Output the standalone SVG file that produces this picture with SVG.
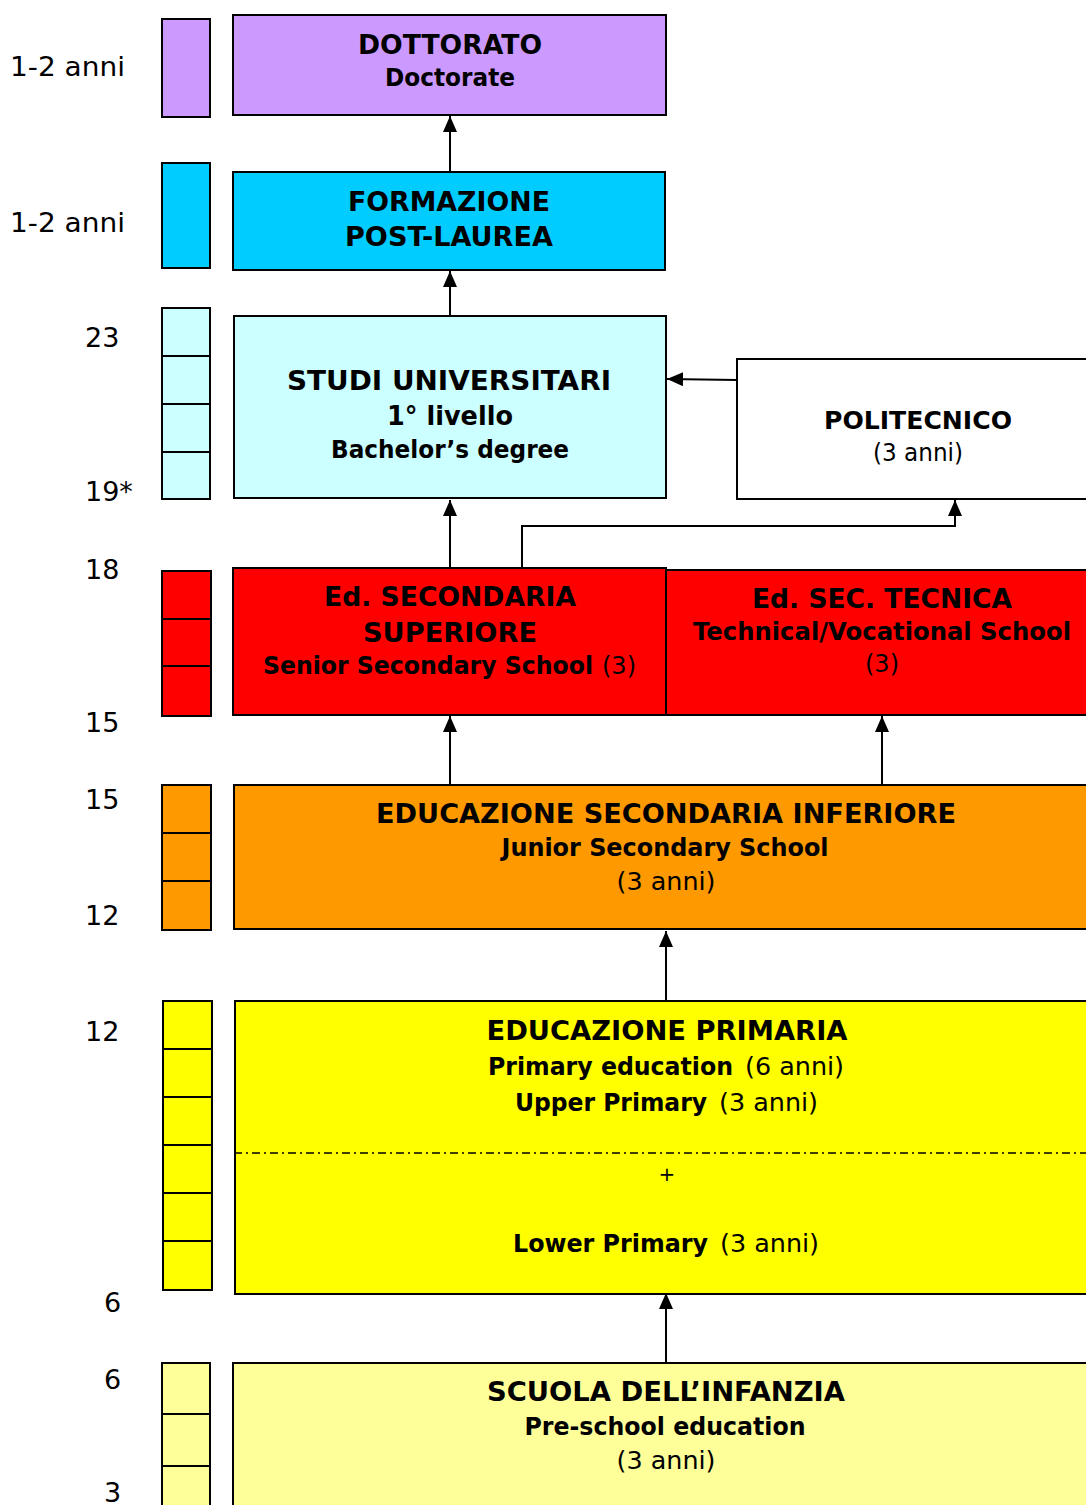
<svg xmlns="http://www.w3.org/2000/svg" width="1086" height="1505" viewBox="0 0 1086 1505">
<defs>
<style>
text{font-family:"DejaVu Sans","Verdana",sans-serif;fill:#000;}
.b{font-weight:bold;}
.n{font-weight:normal;}
.h{font-size:27px;font-weight:bold;}
.s{font-size:24px;font-weight:bold;}
.lbl{font-size:27px;}
.box{stroke:#000;stroke-width:2;}
.bar{stroke:#000;stroke-width:2;}
.con{stroke:#000;stroke-width:2;fill:none;}
</style>
<marker id="ah" viewBox="0 0 16 14" refX="16" refY="7" markerWidth="16" markerHeight="14" markerUnits="userSpaceOnUse" orient="auto">
<path d="M0,0 L16,7 L0,14 z" fill="#000"/>
</marker>
</defs>
<rect width="1086" height="1505" fill="#fff"/>

<g id="age-labels" class="lbl">
<text x="10" y="76" textLength="115" lengthAdjust="spacingAndGlyphs" font-size="27">1-2 anni</text>
<text x="10" y="232" textLength="115" lengthAdjust="spacingAndGlyphs" font-size="27">1-2 anni</text>
<text x="85" y="347" font-size="27">23</text>
<text x="85" y="501" font-size="27">19*</text>
<text x="85" y="579" font-size="27">18</text>
<text x="85" y="732" font-size="27">15</text>
<text x="85" y="809" font-size="27">15</text>
<text x="85" y="925" font-size="27">12</text>
<text x="85" y="1041" font-size="27">12</text>
<text x="104" y="1312" font-size="27">6</text>
<text x="104" y="1389" font-size="27">6</text>
<text x="104" y="1502" font-size="27">3</text>
</g>

<g id="year-bars">
<rect class="bar" x="162" y="19" width="48" height="98" fill="#cc99ff"/>
<rect class="bar" x="162" y="163" width="48" height="105" fill="#00ccff"/>
<g fill="#ccffff">
<rect class="bar" x="162" y="308" width="48" height="48"/>
<rect class="bar" x="162" y="356" width="48" height="48"/>
<rect class="bar" x="162" y="404" width="48" height="48"/>
<rect class="bar" x="162" y="452" width="48" height="47"/>
</g>
<g fill="#ff0000">
<rect class="bar" x="162" y="571" width="49" height="48"/>
<rect class="bar" x="162" y="619" width="49" height="47"/>
<rect class="bar" x="162" y="666" width="49" height="50"/>
</g>
<g fill="#ff9900">
<rect class="bar" x="162" y="785" width="49" height="48"/>
<rect class="bar" x="162" y="833" width="49" height="48"/>
<rect class="bar" x="162" y="881" width="49" height="49"/>
</g>
<g fill="#ffff00">
<rect class="bar" x="163" y="1001" width="49" height="48"/>
<rect class="bar" x="163" y="1049" width="49" height="48"/>
<rect class="bar" x="163" y="1097" width="49" height="48"/>
<rect class="bar" x="163" y="1145" width="49" height="48"/>
<rect class="bar" x="163" y="1193" width="49" height="48"/>
<rect class="bar" x="163" y="1241" width="49" height="49"/>
</g>
<g fill="#ffff99">
<rect class="bar" x="162" y="1363" width="48" height="51"/>
<rect class="bar" x="162" y="1414" width="48" height="52"/>
<rect class="bar" x="162" y="1466" width="48" height="50"/>
</g>
</g>

<g id="connectors">
<line class="con" x1="450" y1="172" x2="450" y2="116" marker-end="url(#ah)"/>
<line class="con" x1="450" y1="316" x2="450" y2="271" marker-end="url(#ah)"/>
<line class="con" x1="450" y1="568" x2="450" y2="500" marker-end="url(#ah)"/>
<polyline class="con" points="522,568 522,526 955,526 955,500" marker-end="url(#ah)"/>
<line class="con" x1="737" y1="380" x2="667" y2="379" marker-end="url(#ah)"/>
<line class="con" x1="450" y1="785" x2="450" y2="716" marker-end="url(#ah)"/>
<line class="con" x1="882" y1="785" x2="882" y2="716" marker-end="url(#ah)"/>
<line class="con" x1="666" y1="1003" x2="666" y2="931" marker-end="url(#ah)"/>
<line class="con" x1="666" y1="1363" x2="666" y2="1293" marker-end="url(#ah)"/>
</g>

<g id="dottorato">
<rect class="box" x="233" y="15" width="433" height="100" fill="#cc99ff"/>
<text class="h" x="450" y="54" text-anchor="middle" textLength="184" lengthAdjust="spacingAndGlyphs">DOTTORATO</text>
<text class="s" x="450" y="86" text-anchor="middle" textLength="130" lengthAdjust="spacingAndGlyphs">Doctorate</text>
</g>

<g id="formazione">
<rect class="box" x="233" y="172" width="432" height="98" fill="#00ccff"/>
<text class="h" x="449" y="211" text-anchor="middle" textLength="202" lengthAdjust="spacingAndGlyphs">FORMAZIONE</text>
<text class="h" x="449" y="246" text-anchor="middle" textLength="208" lengthAdjust="spacingAndGlyphs">POST-LAUREA</text>
</g>

<g id="studi">
<rect class="box" x="234" y="316" width="432" height="182" fill="#ccffff"/>
<text class="h" x="449" y="390" text-anchor="middle" textLength="324" lengthAdjust="spacingAndGlyphs">STUDI UNIVERSITARI</text>
<text class="h" x="450" y="425" text-anchor="middle" textLength="126" lengthAdjust="spacingAndGlyphs">1° livello</text>
<text class="s" x="450" y="458" text-anchor="middle" textLength="238" lengthAdjust="spacingAndGlyphs">Bachelor’s degree</text>
</g>

<g id="politecnico">
<rect class="box" x="737" y="359" width="360" height="140" fill="#ffffff"/>
<text class="b" font-size="25" x="918" y="429" text-anchor="middle" textLength="188" lengthAdjust="spacingAndGlyphs">POLITECNICO</text>
<text font-size="24" x="918" y="461" text-anchor="middle" textLength="90" lengthAdjust="spacingAndGlyphs">(3 anni)</text>
</g>

<g id="sec-superiore">
<rect class="box" x="233" y="568" width="433" height="147" fill="#ff0000"/>
<text class="h" x="450" y="606" text-anchor="middle" textLength="252" lengthAdjust="spacingAndGlyphs">Ed. SECONDARIA</text>
<text class="h" x="450" y="642" text-anchor="middle" textLength="174" lengthAdjust="spacingAndGlyphs">SUPERIORE</text>
<text class="s" x="263" y="674" textLength="330" lengthAdjust="spacingAndGlyphs">Senior Secondary School</text>
<text font-size="24" x="602" y="674" textLength="34" lengthAdjust="spacingAndGlyphs">(3)</text>
</g>

<g id="sec-tecnica">
<rect class="box" x="666" y="570" width="431" height="145" fill="#ff0000"/>
<text class="h" x="882" y="608" text-anchor="middle" textLength="260" lengthAdjust="spacingAndGlyphs">Ed. SEC. TECNICA</text>
<text class="s" x="882" y="640" text-anchor="middle" textLength="378" lengthAdjust="spacingAndGlyphs">Technical/Vocational School</text>
<text font-size="24" x="882" y="672" text-anchor="middle">(3)</text>
</g>

<g id="sec-inferiore">
<rect class="box" x="234" y="785" width="863" height="144" fill="#ff9900"/>
<text class="h" x="666" y="823" text-anchor="middle" textLength="580" lengthAdjust="spacingAndGlyphs">EDUCAZIONE SECONDARIA INFERIORE</text>
<text class="s" x="665" y="856" text-anchor="middle" textLength="327" lengthAdjust="spacingAndGlyphs">Junior Secondary School</text>
<text font-size="25" x="666" y="890" text-anchor="middle" textLength="99" lengthAdjust="spacingAndGlyphs">(3 anni)</text>
</g>

<g id="primaria">
<rect class="box" x="235" y="1001" width="862" height="293" fill="#ffff00"/>
<line x1="234" y1="1153" x2="1086" y2="1153" stroke="#000" stroke-width="1.5" stroke-dasharray="8,4,2,4"/>
<text class="h" x="667" y="1040" text-anchor="middle" textLength="361" lengthAdjust="spacingAndGlyphs">EDUCAZIONE PRIMARIA</text>
<text class="s" font-size="25" x="488" y="1075" textLength="245" lengthAdjust="spacingAndGlyphs">Primary education</text>
<text font-size="25" x="745" y="1075" textLength="99" lengthAdjust="spacingAndGlyphs">(6 anni)</text>
<text class="s" font-size="25" x="515" y="1111" textLength="192" lengthAdjust="spacingAndGlyphs">Upper Primary</text>
<text font-size="25" x="719" y="1111" textLength="99" lengthAdjust="spacingAndGlyphs">(3 anni)</text>
<text font-size="20" x="667" y="1181" text-anchor="middle">+</text>
<text class="s" font-size="25" x="513" y="1252" textLength="195" lengthAdjust="spacingAndGlyphs">Lower Primary</text>
<text font-size="25" x="720" y="1252" textLength="99" lengthAdjust="spacingAndGlyphs">(3 anni)</text>
</g>

<g id="infanzia">
<rect class="box" x="233" y="1363" width="864" height="150" fill="#ffff99"/>
<text class="h" x="666" y="1401" text-anchor="middle" textLength="358" lengthAdjust="spacingAndGlyphs">SCUOLA DELL’INFANZIA</text>
<text class="s" x="665" y="1435" text-anchor="middle" textLength="281" lengthAdjust="spacingAndGlyphs">Pre-school education</text>
<text font-size="25" x="666" y="1469" text-anchor="middle" textLength="99" lengthAdjust="spacingAndGlyphs">(3 anni)</text>
</g>
</svg>
